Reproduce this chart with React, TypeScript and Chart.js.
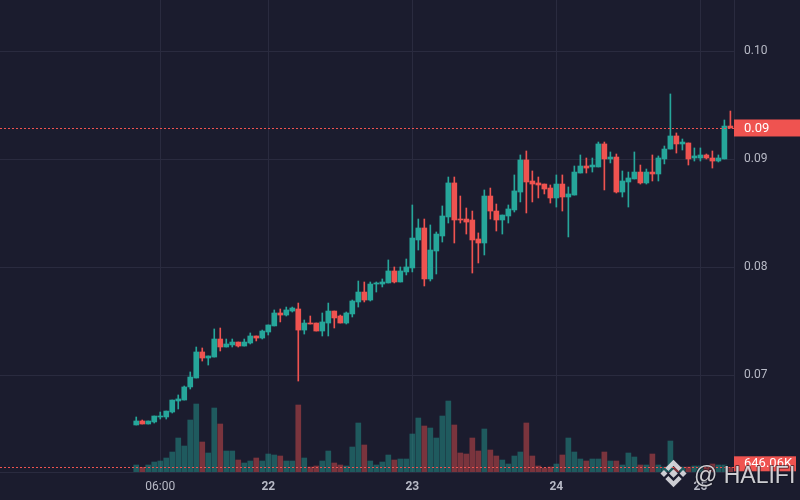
import React, { useEffect, useRef } from "react";
import { Chart, registerables } from "chart.js";

Chart.register(...registerables);

// ---- data (hourly candles starting 21st 02:00) ----
const START_HOUR = 2;

const OPEN = [
  0.0654, 0.06577, 0.06549, 0.06568, 0.06614, 0.06614, 0.0666, 0.06762, 0.06771, 0.06892,
  0.06975, 0.07216, 0.0716, 0.07169, 0.07336, 0.07262, 0.07281, 0.07308, 0.07271, 0.07299,
  0.07364, 0.07345, 0.07401, 0.07457, 0.07577, 0.07558, 0.07595, 0.07614, 0.07419, 0.07484,
  0.07484, 0.0741, 0.07484, 0.07595, 0.07549, 0.07484, 0.07568, 0.07679, 0.07771, 0.07697,
  0.07845, 0.07845, 0.07855, 0.07966, 0.07864, 0.07957, 0.07994, 0.08253, 0.08364, 0.07892,
  0.08151, 0.0829, 0.08466, 0.08781, 0.08447, 0.08447, 0.08438, 0.08262, 0.08225, 0.0866,
  0.08521, 0.08438, 0.08475, 0.08531, 0.08697, 0.08994, 0.08799, 0.08781, 0.08771, 0.08734,
  0.08642, 0.08771, 0.08651, 0.08669, 0.08873, 0.08938, 0.08929, 0.08929, 0.09142, 0.09003,
  0.09021, 0.08697, 0.0879, 0.08818, 0.08882, 0.08781, 0.08882, 0.08864, 0.09003, 0.09095,
  0.09216, 0.09142, 0.09151, 0.09012, 0.09012, 0.0904, 0.09012, 0.08984, 0.09003, 0.09308,
];

const CLOSE = [
  0.06577, 0.06549, 0.06577, 0.06623, 0.06623, 0.06669, 0.06771, 0.06781, 0.06892, 0.06984,
  0.07216, 0.0716, 0.07179, 0.07336, 0.07262, 0.0729, 0.07308, 0.07271, 0.07308, 0.07364,
  0.07345, 0.0741, 0.07466, 0.07577, 0.07558, 0.07605, 0.07623, 0.07419, 0.07484, 0.07475,
  0.0741, 0.07494, 0.07595, 0.07531, 0.07484, 0.07577, 0.07688, 0.07771, 0.07697, 0.07845,
  0.07855, 0.07864, 0.07966, 0.07864, 0.07966, 0.08003, 0.08271, 0.08364, 0.07892, 0.0816,
  0.08308, 0.08475, 0.08781, 0.08438, 0.08438, 0.08419, 0.08253, 0.08225, 0.0866, 0.08521,
  0.08438, 0.08484, 0.0854, 0.08707, 0.08994, 0.0879, 0.08771, 0.08762, 0.08725, 0.08642,
  0.08771, 0.08651, 0.08679, 0.08882, 0.08938, 0.08919, 0.08947, 0.09142, 0.09003, 0.09021,
  0.08697, 0.08799, 0.08827, 0.08882, 0.08781, 0.08882, 0.08864, 0.09012, 0.09095, 0.09216,
  0.09142, 0.0916, 0.09003, 0.09031, 0.0904, 0.09012, 0.08984, 0.09012, 0.09308, 0.0929,
];

const HIGH = [
  0.06614, 0.06586, 0.06577, 0.06623, 0.0666, 0.06669, 0.06771, 0.06818, 0.06901, 0.07031,
  0.07262, 0.07253, 0.07179, 0.07429, 0.07438, 0.07336, 0.07336, 0.07308, 0.07336, 0.07392,
  0.07364, 0.07419, 0.07466, 0.07605, 0.07614, 0.07632, 0.07632, 0.07669, 0.07512, 0.07549,
  0.07484, 0.07577, 0.07669, 0.07595, 0.07558, 0.07586, 0.07697, 0.07873, 0.07864, 0.07864,
  0.07864, 0.07892, 0.08068, 0.08003, 0.08003, 0.08077, 0.08577, 0.08447, 0.08447, 0.08392,
  0.08327, 0.08568, 0.08836, 0.08836, 0.0866, 0.08549, 0.08521, 0.08318, 0.08716, 0.08734,
  0.08586, 0.08484, 0.08577, 0.08855, 0.0904, 0.09077, 0.08892, 0.08836, 0.08771, 0.08762,
  0.08855, 0.08855, 0.08744, 0.08938, 0.0904, 0.09012, 0.09012, 0.0916, 0.0916, 0.09068,
  0.09049, 0.08892, 0.08882, 0.09068, 0.08947, 0.0891, 0.0904, 0.09031, 0.09123, 0.09605,
  0.09244, 0.09188, 0.09151, 0.09105, 0.09105, 0.09049, 0.09077, 0.0904, 0.09364, 0.09447,
];

const LOW = [
  0.0654, 0.06549, 0.06549, 0.06558, 0.06595, 0.06595, 0.06651, 0.06688, 0.06771, 0.06873,
  0.06975, 0.07132, 0.07095, 0.07169, 0.07225, 0.07262, 0.07262, 0.07262, 0.07271, 0.0729,
  0.07318, 0.07336, 0.07373, 0.07457, 0.07494, 0.07549, 0.07586, 0.06947, 0.07382, 0.07475,
  0.0741, 0.07364, 0.07364, 0.07438, 0.07484, 0.07475, 0.0754, 0.07632, 0.07679, 0.07688,
  0.07771, 0.07818, 0.07855, 0.07855, 0.07864, 0.07929, 0.07957, 0.0816, 0.07827, 0.07873,
  0.07938, 0.08234, 0.0841, 0.08225, 0.0841, 0.08308, 0.07947, 0.0804, 0.08114, 0.08447,
  0.08336, 0.08308, 0.0841, 0.08512, 0.08605, 0.08503, 0.08605, 0.08642, 0.08679, 0.08595,
  0.08558, 0.08521, 0.08281, 0.08669, 0.08873, 0.08873, 0.08882, 0.08929, 0.08716, 0.08966,
  0.08688, 0.08651, 0.08558, 0.08818, 0.08771, 0.08771, 0.08799, 0.08799, 0.08957, 0.09095,
  0.09058, 0.09086, 0.08947, 0.08984, 0.08984, 0.09003, 0.08919, 0.08975, 0.09003, 0.0929,
];

// volume in thousands
const VOLUME_K = [
  962, 650, 962, 1375, 1512, 1925, 2750, 4675, 3575, 7150,
  9350, 4125, 2612, 8800, 6600, 2887, 2887, 1650, 1237, 1512,
  1925, 1512, 2475, 2337, 2200, 1512, 1512, 9212, 1925, 687,
  825, 1512, 2887, 1237, 962, 825, 3437, 6737, 3712, 1512,
  962, 1375, 2337, 1650, 1787, 1787, 5225, 7425, 6325, 6050,
  4675, 7700, 9762, 6462, 2612, 2475, 4675, 2887, 5912, 3025,
  2200, 1650, 1100, 2200, 2750, 6737, 2200, 825, 550, 687,
  1100, 2337, 4675, 2750, 1787, 1512, 1787, 1787, 2750, 1512,
  1512, 962, 2612, 2062, 962, 962, 2475, 962, 687, 4262,
  687, 687, 687, 825, 825, 687, 1100, 962, 962, 646.06,
];

const X_TICK_HOURS = [6, 24, 48, 72, 96];
const X_TICK_LABELS = ["06:00", "22", "23", "24", "25"];
const Y_TICKS = [0.07, 0.08, 0.09, 0.1];
const WATERMARK = "@ HALIFI";

// ---- styling ----
const BG = "#1b1c2e";
const GRID = "#2a2b3f";
const UP = "#26a69a";
const DOWN = "#ef5350";
const UP_VOL = "rgba(38,166,154,0.45)";
const DOWN_VOL = "rgba(239,83,80,0.45)";
const TEXT = "#b8bac6";
const FONT = "Roboto, 'Liberation Sans', sans-serif";

export default function App() {
  const ref = useRef<HTMLCanvasElement>(null);

  useEffect(() => {
    document.body.style.margin = "0";
    const canvas = ref.current!;
    const xs = CLOSE.map((_, i) => START_HOUR + i);
    const isUp = CLOSE.map((c, i) => c >= OPEN[i]);
    const lastClose = CLOSE[CLOSE.length - 1];
    const lastVol = VOLUME_K[VOLUME_K.length - 1];

    const bgPlugin = {
      id: "bg",
      beforeDraw(chart: any) {
        const c = chart.ctx;
        c.save();
        c.fillStyle = BG;
        c.fillRect(0, 0, chart.width, chart.height);
        c.restore();
      },
    };

    const overlayPlugin = {
      id: "overlay",
      afterDatasetsDraw(chart: any) {
        const c = chart.ctx;
        const { left, right } = chart.chartArea;
        const yP = chart.scales.y.getPixelForValue(lastClose);
        const yV = chart.scales.vol.getPixelForValue(lastVol);
        c.save();
        c.strokeStyle = DOWN;
        c.lineWidth = 1;
        c.setLineDash([2, 2]);
        c.beginPath();
        c.moveTo(left, Math.round(yP) + 0.5);
        c.lineTo(right, Math.round(yP) + 0.5);
        c.moveTo(left, Math.round(yV) + 0.5);
        c.lineTo(right, Math.round(yV) + 0.5);
        c.stroke();
        c.restore();
      },
      afterDraw(chart: any) {
        const c = chart.ctx;
        const { right } = chart.chartArea;
        const yP = chart.scales.y.getPixelForValue(lastClose);
        const yV = chart.scales.vol.getPixelForValue(lastVol);
        c.save();
        // price tag
        c.fillStyle = DOWN;
        c.fillRect(right, yP - 8.5, chart.width - right, 17);
        c.fillStyle = "#ffffff";
        c.font = `13px ${FONT}`;
        c.textBaseline = "middle";
        c.textAlign = "left";
        c.fillText(lastClose.toFixed(2), right + 10, yP + 0.5);
        // volume tag
        c.fillStyle = DOWN;
        c.fillRect(right, yV - 11, 62, 15);
        c.fillStyle = "#ffffff";
        c.fillText(lastVol.toFixed(2) + "K", right + 10, yV - 3.5);

        // watermark logo
        const cx = 673.5;
        const cy = 473.5;
        const u = 2.9;
        const wm = "rgba(225,225,230,0.9)";
        c.fillStyle = wm;
        c.strokeStyle = wm;
        const diamond = (x: number, y: number, r: number) => {
          c.beginPath();
          c.moveTo(x, y - r);
          c.lineTo(x + r, y);
          c.lineTo(x, y + r);
          c.lineTo(x - r, y);
          c.closePath();
          c.fill();
        };
        diamond(cx, cy, 1.5 * u);
        diamond(cx - 3.3 * u, cy, 1.2 * u);
        diamond(cx + 3.3 * u, cy, 1.2 * u);
        c.lineWidth = 1.5 * u;
        c.lineJoin = "miter";
        c.setLineDash([]);
        c.beginPath();
        c.moveTo(cx - 2.3 * u, cy - 1.4 * u);
        c.lineTo(cx, cy - 3.7 * u);
        c.lineTo(cx + 2.3 * u, cy - 1.4 * u);
        c.stroke();
        c.beginPath();
        c.moveTo(cx - 2.3 * u, cy + 1.4 * u);
        c.lineTo(cx, cy + 3.7 * u);
        c.lineTo(cx + 2.3 * u, cy + 1.4 * u);
        c.stroke();
        // watermark text
        c.font = `23px 'Liberation Sans', Arial, sans-serif`;
        c.textBaseline = "alphabetic";
        c.textAlign = "left";
        c.lineWidth = 2;
        c.lineJoin = "round";
        c.strokeStyle = "rgba(20,20,30,0.6)";
        c.strokeText(WATERMARK, 694, 483);
        c.fillStyle = wm;
        c.fillText(WATERMARK, 694, 483);
        c.restore();
      },
    };

    const chart = new Chart(canvas, {
      type: "bar",
      data: {
        datasets: [
          {
            label: "bodies",
            data: xs.map((x, i) => ({ x, y: [OPEN[i], CLOSE[i]] })) as any,
            backgroundColor: isUp.map((u) => (u ? UP : DOWN)),
            barThickness: 5,
            minBarLength: 1,
            grouped: false,
            yAxisID: "y",
            order: 1,
          },
          {
            label: "wicks",
            data: xs.map((x, i) => ({ x, y: [LOW[i], HIGH[i]] })) as any,
            backgroundColor: isUp.map((u) => (u ? UP : DOWN)),
            barThickness: 1,
            minBarLength: 1,
            grouped: false,
            yAxisID: "y",
            order: 2,
          },
          {
            label: "volume",
            data: xs.map((x, i) => ({ x, y: VOLUME_K[i] })) as any,
            backgroundColor: isUp.map((u) => (u ? UP_VOL : DOWN_VOL)),
            barThickness: 5,
            grouped: false,
            yAxisID: "vol",
            order: 3,
          },
        ],
      },
      options: {
        responsive: false,
        animation: false,
        devicePixelRatio: 1,
        layout: { padding: 0, autoPadding: false },
        plugins: {
          legend: { display: false },
          tooltip: { enabled: false },
        },
        scales: {
          x: {
            type: "linear",
            min: -20.7,
            max: 101.6,
            offset: false,
            grid: { color: GRID, drawTicks: false, offset: false },
            border: { display: true, color: GRID },
            afterBuildTicks(scale: any) {
              scale.ticks = X_TICK_HOURS.map((v) => ({ value: v }));
            },
            afterFit(scale: any) {
              scale.height = 28;
              scale.paddingLeft = 0;
              scale.paddingRight = 0;
            },
            ticks: {
              autoSkip: false,
              maxRotation: 0,
              padding: 8,
              color: TEXT,
              font: (ctx: any) => ({
                family: FONT,
                size: 12,
                weight: ctx.index > 0 ? "bold" : "normal",
              }),
              callback: (_v: any, i: number) => X_TICK_LABELS[i],
            },
          },
          y: {
            type: "linear",
            position: "right",
            min: 0.061046,
            max: 0.10475,
            grid: { color: GRID, drawTicks: false },
            border: { display: true, color: GRID },
            afterBuildTicks(scale: any) {
              scale.ticks = Y_TICKS.map((v) => ({ value: v }));
            },
            afterFit(scale: any) {
              scale.width = 66;
              scale.paddingTop = 0;
              scale.paddingBottom = 0;
            },
            ticks: {
              padding: 10,
              color: TEXT,
              font: { family: FONT, size: 12 },
              callback: (v: any) => Number(v).toFixed(2),
            },
          },
          vol: {
            type: "linear",
            display: false,
            min: 0,
            max: 64900,
          },
        },
      },
      plugins: [bgPlugin, overlayPlugin],
    } as any);

    return () => chart.destroy();
  }, []);

  return (
    <div style={{ position: "fixed", left: 0, top: 0, width: 800, height: 500, background: BG }}>
      <canvas ref={ref} width={800} height={500} style={{ display: "block", width: 800, height: 500 }} />
    </div>
  );
}
